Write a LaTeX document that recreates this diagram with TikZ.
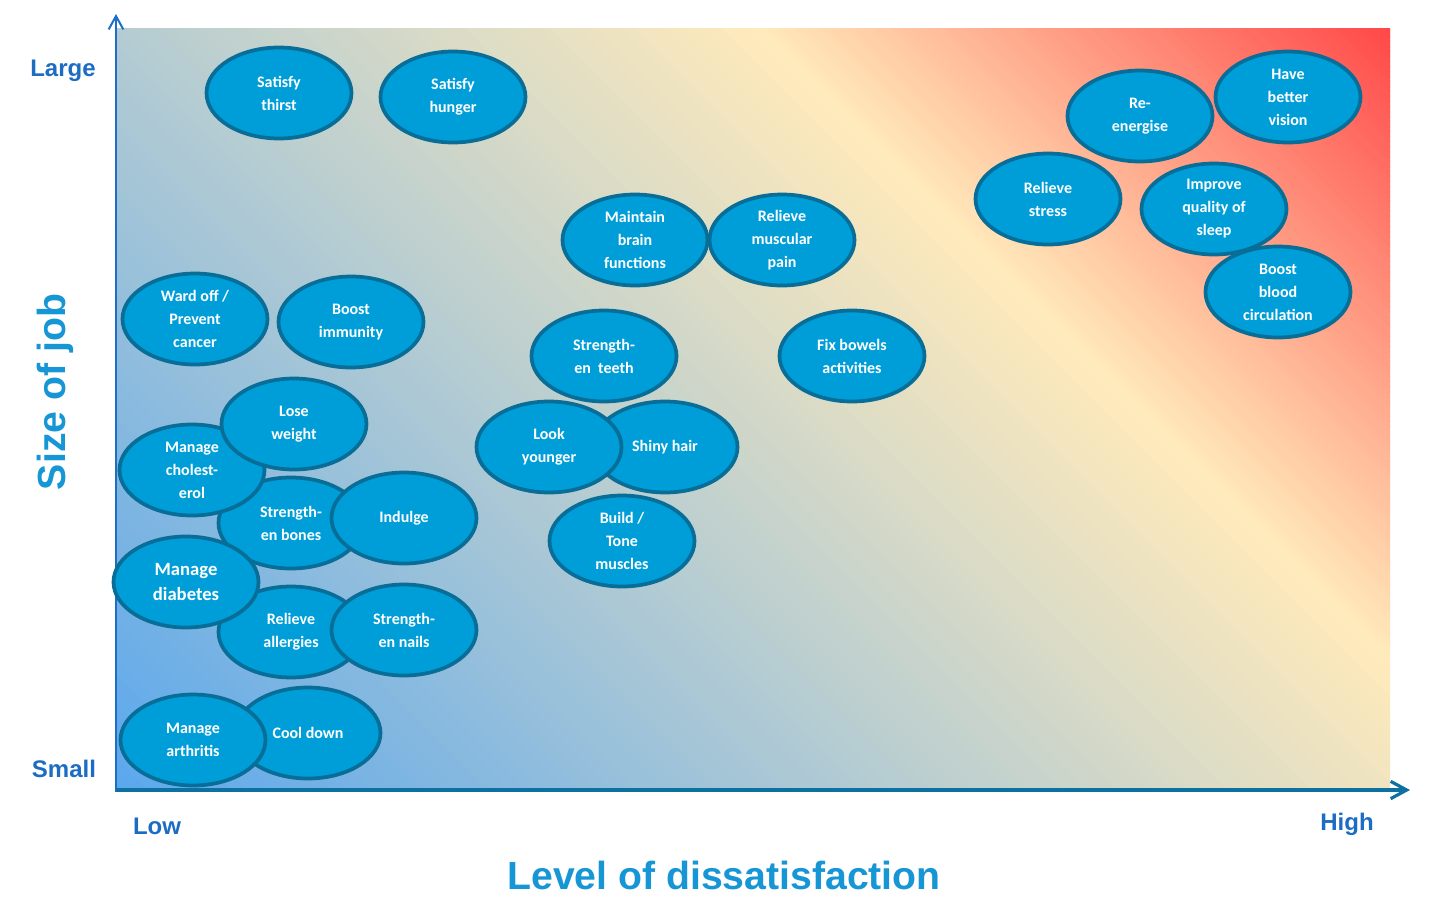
\documentclass[tikz,border=0pt]{standalone}
\usepackage{fontspec}
\setmainfont{Liberation Sans}
\newfontfamily\calib{Carlito}
\usetikzlibrary{arrows.meta,shapes.geometric}
\definecolor{bgblue}{RGB}{90,167,237}
\definecolor{bgyellow}{RGB}{255,234,187}
\definecolor{bgred}{RGB}{255,72,72}
\definecolor{ellfill}{RGB}{0,158,217}
\definecolor{elldraw}{RGB}{8,110,152}
\definecolor{axisblue}{RGB}{30,110,200}
\definecolor{axisteal}{RGB}{12,112,160}
\definecolor{labdark}{RGB}{28,108,196}
\definecolor{labbright}{RGB}{23,150,214}
\tikzset{
  goal/.style={ellipse, draw=elldraw, fill=ellfill, line width=2.8pt,
    minimum width=108.75pt, minimum height=68.25pt, inner sep=0pt, text=white,
    font=\calib\bfseries\fontsize{12}{17.25}\selectfont, align=center},
  biggoal/.style={goal, font=\calib\bfseries\fontsize{14}{18.75}\selectfont},
  axlab/.style={text=labdark, font=\bfseries\fontsize{18}{21}\selectfont, anchor=base, inner sep=0pt},
  axtitle/.style={text=labbright, font=\bfseries\fontsize{29.4}{34}\selectfont, anchor=base, inner sep=0pt},
}
\begin{document}
\begin{tikzpicture}[x=0.75pt,y=-0.75pt]
\useasboundingbox (0,0) rectangle (1430,921);
% background gradient (45 degree bands)
\begin{scope}
\clip (117,28) rectangle (1390,790);
\foreach \i in {0,...,281}{
  \pgfmathtruncatemacro\p{100-\i/2.81}
  \fill[bgblue!\p!bgyellow] ({5*\i-645},28) -- ({5*\i+117},790) -- ({5*\i+125},790) -- ({5*\i-637},28) -- cycle;
}
\foreach \i in {282,...,410}{
  \pgfmathtruncatemacro\p{max(0,100-(\i-281)/1.26)}
  \fill[bgyellow!\p!bgred] ({5*\i-645},28) -- ({5*\i+117},790) -- ({5*\i+125},790) -- ({5*\i-637},28) -- cycle;
}
\end{scope}
% axes
\coordinate (ybot) at (116,792);
\coordinate (ytop) at (116,14);
\coordinate (xbeg) at (116,790);
\coordinate (xend) at (1410,790);
\draw[axisblue, line width=1.5pt, -{Straight Barb[length=10pt,width=11pt]}] (ybot) -- (ytop);
\draw[axisteal, line width=2.4pt, -{Straight Barb[length=12pt,width=13pt]}] (xbeg) -- (xend);
% axis labels
\node[axlab] (large) at (63,76) {Large};
\node[axlab] (small) at (64,777) {Small};
\node[axlab] (low) at (157,834) {Low};
\node[axlab] (high) at (1347,830) {High};
\node[axtitle, rotate=90] (sizejob) at (65,392) {Size of job};
\node[axtitle] (level) at (724,889) {Level of dissatisfaction};
% goals (back to front)
\node[goal] (thirst) at (279,93) {Satisfy\\thirst};
\node[goal] (hunger) at (453,97) {Satisfy\\hunger};
\node[goal] (reenergise) at (1140,116) {Re-\\energise};
\node[goal] (vision) at (1288,97) {Have\\better\\vision};
\node[goal] (stress) at (1048,199) {Relieve\\stress};
\node[goal] (blood) at (1278,292) {Boost\\blood\\circulation};
\node[goal] (sleep) at (1214,209) {Improve\\quality of\\sleep};
\node[goal] (brain) at (635,240) {Maintain\\brain\\functions};
\node[goal] (muscular) at (782,240) {Relieve\\muscular\\pain};
\node[goal] (cancer) at (195,319) {Ward off /\\Prevent\\cancer};
\node[goal] (immunity) at (351,322) {Boost\\immunity};
\node[goal] (teeth) at (604,356) {Strength-\\en\ \ teeth};
\node[goal] (bowels) at (852,356) {Fix bowels\\activities};
\node[goal] (hair) at (665,447) {Shiny hair};
\node[goal] (younger) at (549,447) {Look\\younger};
\node[goal] (tone) at (622,541) {Build /\\Tone\\muscles};
\node[goal] (bones) at (291,523) {Strength-\\en bones};
\node[goal] (cholesterol) at (192,470) {Manage\\cholest-\\erol};
\node[goal] (weight) at (294,424) {Lose\\weight};
\node[goal] (indulge) at (404,518) {Indulge};
\node[goal] (allergies) at (291,632) {Relieve\\allergies};
\node[biggoal] (diabetes) at (186,582) {Manage\\diabetes};
\node[goal] (nails) at (404,630) {Strength-\\en nails};
\node[goal] (cool) at (308,733) {Cool down};
\node[goal] (arthritis) at (193,740) {Manage\\arthritis};
\end{tikzpicture}
\end{document}
